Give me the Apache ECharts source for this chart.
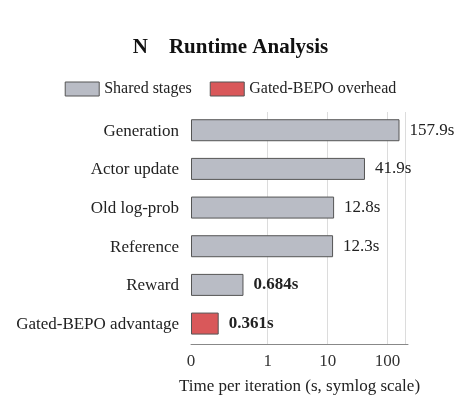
<!DOCTYPE html><html><head><meta charset="utf-8">
<script src="https://cdn.jsdelivr.net/npm/echarts@6/dist/echarts.min.js"></script>
<style>html,body{margin:0;padding:0;background:#fff}#c{width:461px;height:406px}</style></head>
<body><div id="c"></div><script>
const categories = ['Generation','Actor update','Old log-prob','Reference','Reward','Gated-BEPO advantage'];
const values = [157.9, 41.9, 12.8, 12.3, 0.684, 0.361];
const valueLabels = ['157.9s','41.9s','12.8s','12.3s','0.684s','0.361s'];
const isOverhead = [false,false,false,false,false,true];
const tickValues = [0,1,10,100,200];
const LIN = 1.28;
function t(x){return x<=1 ? x*LIN : LIN+Math.log10(x);}
const tickPos = tickValues.map(t);
const font = 'Liberation Serif';
const gray = '#b9bcc5', red = '#d9585a';
const chart = echarts.init(document.getElementById('c'));
chart.setOption({
  animation:false,
  textStyle:{fontFamily:font},
  title:{text:'N    Runtime Analysis',left:'center',top:32,textStyle:{fontFamily:font,fontSize:21,fontWeight:'bold',color:'#111'}},
  legend:{top:76,left:'center',itemWidth:34,itemHeight:14,itemGap:18,textStyle:{fontFamily:font,fontSize:16,color:'#222'},
    data:[{name:'Shared stages',icon:'rect',itemStyle:{color:gray,borderColor:'#555',borderWidth:1}},{name:'Gated-BEPO overhead',icon:'rect',itemStyle:{color:red,borderColor:'#555',borderWidth:1}}]},
  grid:{left:191,right:53,top:112,bottom:62},
  xAxis:{type:'value',min:0,max:3.62,
    name:'Time per iteration (s, symlog scale)',nameLocation:'middle',nameGap:34,nameTextStyle:{fontFamily:font,fontSize:17,color:'#222'},
    axisLine:{show:true,lineStyle:{color:'#888'}},axisTick:{show:false},
    splitLine:{show:false},
    axisLabel:{customValues:tickPos,hideOverlap:false,fontFamily:font,fontSize:17,color:'#333',margin:9,
      formatter:v=>{const i=tickPos.findIndex(p=>Math.abs(p-v)<1e-6);return i>=0?String(tickValues[i]):'';}}},
  yAxis:{type:'category',data:categories,inverse:true,axisLine:{show:false},axisTick:{show:false},
    axisLabel:{fontFamily:font,fontSize:17,color:'#222',margin:12}},
  series:[
    {name:'Shared stages',type:'bar',stack:'a',barWidth:22,
      data:values.map((v,i)=>({value:t(v),itemStyle:{color:isOverhead[i]?red:gray,borderColor:'#555',borderWidth:1},
        label:{show:true,position:'right',distance:10,formatter:valueLabels[i],fontFamily:font,fontSize:17,color:'#222',fontWeight:i>=4?'bold':'normal'}})),
      markLine:{silent:true,symbol:'none',label:{show:false},lineStyle:{color:'#dcdcdc',type:'solid',width:1},
        data:tickPos.slice(1).map(p=>({xAxis:p})),z:0}},
    {name:'Gated-BEPO overhead',type:'bar',stack:'b',data:[]}
  ]
});
</script></body></html>
